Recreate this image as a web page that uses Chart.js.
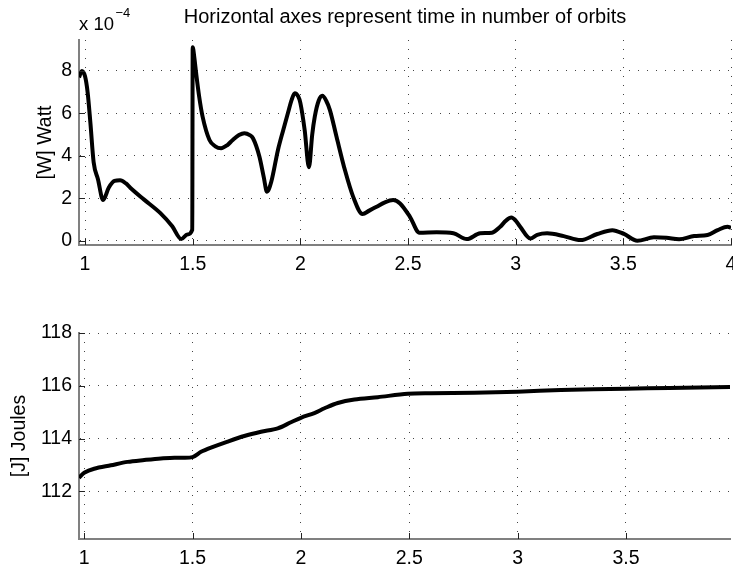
<!DOCTYPE html>
<html lang="en">
<head>
<meta charset="UTF-8" />
<title>Power and energy over orbits</title>
<script src="https://cdn.jsdelivr.net/npm/chart.js@4.4.0/dist/chart.umd.min.js"></script>
<style>
  html, body { margin: 0; padding: 0; background: #fff; }
  #wrap { position: relative; width: 733px; height: 570px; }
  .box { position: absolute; left: 0; width: 733px; height: 285px; }
</style>
</head>
<body>
<div id="wrap">
  <div class="box" style="top:0"><canvas id="powerChart"></canvas></div>
  <div class="box" style="top:285px"><canvas id="energyChart"></canvas></div>
</div>
<script>
// top plot: power, in units of 1e-4 W
const orbitsTop = [0.972, 0.985, 1.0, 1.012, 1.025, 1.04, 1.06, 1.084, 1.11, 1.137, 1.163, 1.19, 1.21, 1.273, 1.35, 1.405, 1.447, 1.475, 1.498,
  1.5, 1.508, 1.516, 1.53, 1.546, 1.578, 1.605, 1.632, 1.66, 1.686, 1.715, 1.74, 1.765, 1.78, 1.81, 1.83, 1.845, 1.865, 1.896, 1.92, 1.942,
  1.96, 1.974, 1.99, 2.0, 2.02, 2.04, 2.055, 2.067, 2.085, 2.102, 2.12, 2.137, 2.168, 2.207, 2.245, 2.289, 2.32, 2.354, 2.39, 2.431, 2.463,
  2.509, 2.553, 2.633, 2.711, 2.773, 2.835, 2.89, 2.928, 2.955, 2.98, 3.0, 3.021, 3.068, 3.1, 3.146, 3.223, 3.301, 3.379, 3.449, 3.503,
  3.565, 3.642, 3.7, 3.759, 3.829, 3.891, 3.938, 3.984, 4.0];
const wattE4 = [7.7, 8.0, 7.75, 7.0, 5.55, 3.7, 2.9, 1.92, 2.5, 2.82, 2.85, 2.7, 2.5, 1.95, 1.3, 0.68, 0.08, 0.3, 0.52,
  9.12, 8.6, 7.9, 6.8, 5.85, 4.75, 4.45, 4.36, 4.5, 4.75, 4.98, 5.07, 4.98, 4.83, 3.96, 3.0, 2.31, 2.78, 4.28, 5.2, 6.01,
  6.65, 6.95, 6.8, 6.5, 5.22, 3.46, 5.0, 5.85, 6.6, 6.83, 6.6, 6.17, 4.9, 3.33, 2.08, 1.26, 1.42, 1.6, 1.8, 1.92, 1.76,
  1.13, 0.38, 0.40, 0.35, 0.08, 0.35, 0.38, 0.66, 0.95, 1.09, 0.95, 0.66, 0.11, 0.28, 0.35, 0.22, 0.03, 0.32, 0.5, 0.32,
  0.0, 0.16, 0.14, 0.07, 0.22, 0.27, 0.5, 0.66, 0.61];

// bottom plot: energy in joules
const orbitsBottom = [0.976, 1.0, 1.046, 1.123, 1.2, 1.277, 1.354, 1.431, 1.5, 1.539, 1.585, 1.662, 1.739, 1.816, 1.893, 1.954, 2.0,
  2.062, 2.109, 2.17, 2.247, 2.355, 2.493, 2.6, 2.8, 3.0, 3.2, 3.5, 3.7, 3.98];
const joules = [112.52, 112.71, 112.86, 112.99, 113.12, 113.19, 113.25, 113.28, 113.3, 113.5, 113.66, 113.89, 114.1, 114.26, 114.39,
  114.62, 114.79, 114.97, 115.15, 115.35, 115.48, 115.57, 115.7, 115.72, 115.74, 115.78, 115.84, 115.89, 115.92, 115.96];

const xTicks = [1, 1.5, 2, 2.5, 3, 3.5, 4];
const FONT = '"Liberation Sans", Arial, Helvetica, sans-serif';

// MATLAB style tick marks pointing into the plot
const innerTicks = {
  id: 'innerTicks',
  afterDatasetsDraw(chart) {
    const { ctx, chartArea: a, scales: { x, y } } = chart;
    ctx.save();
    ctx.strokeStyle = '#222';
    ctx.lineWidth = 1;
    ctx.beginPath();
    x.ticks.forEach(t => {
      const px = Math.round(x.getPixelForValue(t.value)) + 0.5;
      ctx.moveTo(px, a.bottom);
      ctx.lineTo(px, a.bottom - 6);
    });
    y.ticks.forEach(t => {
      const py = Math.round(y.getPixelForValue(t.value)) + 0.5;
      ctx.moveTo(a.left, py);
      ctx.lineTo(a.left + 6, py);
    });
    ctx.stroke();
    ctx.restore();
  }
};

// figure title and the exponent label of the top plot
const topTexts = {
  id: 'topTexts',
  afterDraw(chart) {
    const { ctx, chartArea: a } = chart;
    ctx.save();
    ctx.fillStyle = '#000';
    ctx.textBaseline = 'alphabetic';
    ctx.textAlign = 'center';
    ctx.font = '20px ' + FONT;
    ctx.fillText('Horizontal axes represent time in number of orbits', (a.left + a.right) / 2, 23);
    ctx.textAlign = 'left';
    ctx.font = '18.5px ' + FONT;
    ctx.fillText('x 10', 79, 29.5);
    ctx.font = '13px ' + FONT;
    ctx.fillText('\u22124', 115.5, 17);
    ctx.restore();
  }
};

function makeOptions(opts) {
  return {
    responsive: true,
    maintainAspectRatio: false,
    animation: false,
    layout: { padding: opts.padding },
    plugins: { legend: { display: false }, tooltip: { enabled: false } },
    scales: {
      x: {
        type: 'linear',
        min: opts.xMin,
        max: opts.xMax,
        afterBuildTicks: s => { s.ticks = xTicks.filter(v => v >= s.min && v <= s.max).map(v => ({ value: v })); },
        afterFit: s => { s.height = opts.xHeight; s.paddingLeft = 0; s.paddingRight = 0; },
        ticks: {
          color: '#000', padding: 8, maxRotation: 0, autoSkip: false,
          font: { family: FONT, size: 19.5 },
          callback: v => String(v)
        },
        grid: { color: '#444', lineWidth: 1, drawTicks: false },
        border: { display: true, color: '#808080', width: 2, dash: [1, 8] }
      },
      y: {
        min: opts.yMin,
        max: opts.yMax,
        afterBuildTicks: s => { s.ticks = opts.yTicks.map(v => ({ value: v })); },
        afterFit: s => { s.width = 79; s.paddingTop = 0; s.paddingBottom = 0; },
        ticks: {
          color: '#000', padding: 7,
          font: { family: FONT, size: 19.5 },
          callback: v => String(v)
        },
        title: {
          display: true, text: opts.yTitle, color: '#000',
          padding: { top: opts.titlePad, bottom: 0 },
          font: { family: FONT, size: 19.5 }
        },
        grid: { color: '#444', lineWidth: 1, drawTicks: false },
        border: { display: true, color: '#808080', width: 2, dash: [1, 8] }
      }
    }
  };
}

new Chart(document.getElementById('powerChart'), {
  type: 'line',
  data: {
    datasets: [{
      data: orbitsTop.map((t, i) => ({ x: t, y: wattE4[i] })),
      borderColor: '#000', borderWidth: 4, pointRadius: 0,
      cubicInterpolationMode: 'monotone', fill: false
    }]
  },
  options: makeOptions({
    padding: { top: 40, right: 2, left: 0, bottom: 0 },
    xMin: 0.972, xMax: 4.0, xHeight: 40,
    yMin: -0.2, yMax: 9.46, yTicks: [0, 2, 4, 6, 8],
    yTitle: '[W] Watt', titlePad: 34
  }),
  plugins: [innerTicks, topTexts]
});

new Chart(document.getElementById('energyChart'), {
  type: 'line',
  data: {
    datasets: [{
      data: orbitsBottom.map((t, i) => ({ x: t, y: joules[i] })),
      borderColor: '#000', borderWidth: 4, pointRadius: 0, tension: 0.3, fill: false
    }]
  },
  options: makeOptions({
    padding: { top: 48, right: 3, left: 0, bottom: 0 },
    xMin: 0.976, xMax: 3.98, xHeight: 31,
    yMin: 110.2, yMax: 118, yTicks: [112, 114, 116, 118],
    yTitle: '[J] Joules', titlePad: 8
  }),
  plugins: [innerTicks]
});
</script>
</body>
</html>
